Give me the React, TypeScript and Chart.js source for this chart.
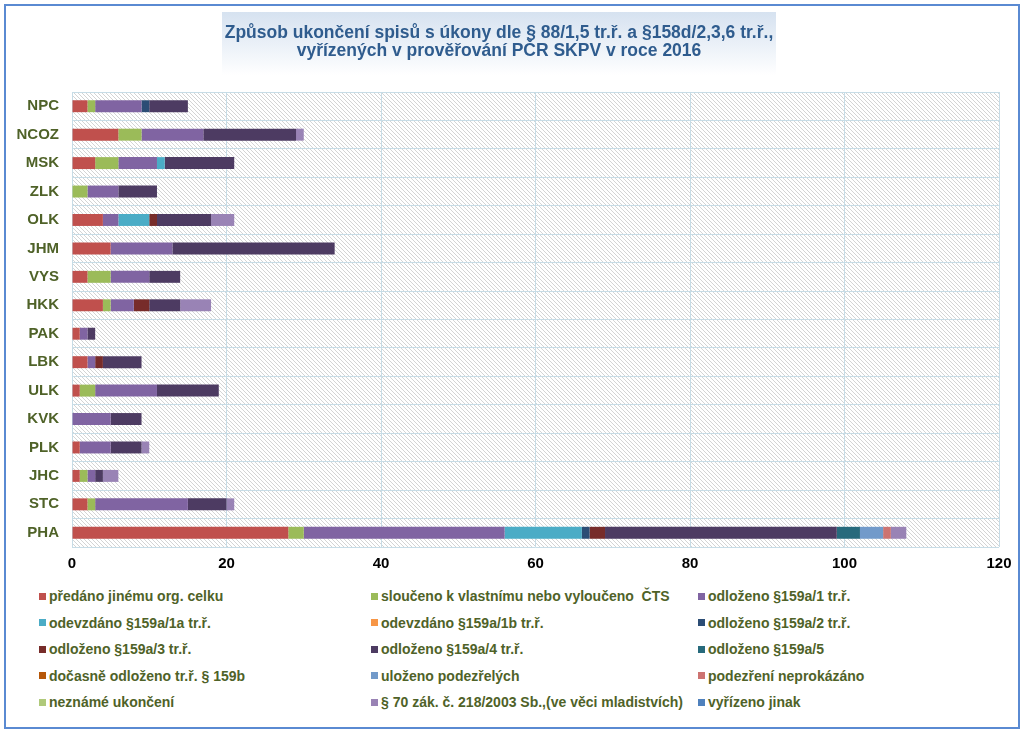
import React, { useEffect, useRef } from "react";
import { Chart, registerables } from "chart.js";

Chart.register(...registerables);

const categories = ["NPC", "NCOZ", "MSK", "ZLK", "OLK", "JHM", "VYS", "HKK", "PAK", "LBK", "ULK", "KVK", "PLK", "JHC", "STC", "PHA"];

const seriesNames = [
  "předáno jinému org. celku",
  "sloučeno k vlastnímu nebo vyloučeno  ČTS",
  "odloženo §159a/1 tr.ř.",
  "odevzdáno §159a/1a tr.ř.",
  "odevzdáno §159a/1b tr.ř.",
  "odloženo §159a/2 tr.ř.",
  "odloženo §159a/3 tr.ř.",
  "odloženo §159a/4 tr.ř.",
  "odloženo §159a/5",
  "dočasně odloženo tr.ř. § 159b",
  "uloženo podezřelých",
  "podezření neprokázáno",
  "neznámé ukončení",
  "§ 70 zák. č. 218/2003 Sb.,(ve věci mladistvích)",
  "vyřízeno jinak",
];

const seriesColors = [
  "#C0504D", "#9BBB59", "#8064A2", "#4BACC6", "#F79646",
  "#2C4D75", "#772C2A", "#4D3B62", "#276A7C", "#B65708",
  "#729ACA", "#CD7371", "#AFC97A", "#9983B5", "#4F81BD",
];

const predano = [2, 6, 3, 0, 4, 5, 2, 4, 1, 2, 1, 0, 1, 1, 2, 28];
const slouceno = [1, 3, 3, 2, 0, 0, 3, 1, 0, 0, 2, 0, 0, 1, 1, 2];
const odlozeno1 = [6, 8, 5, 4, 2, 8, 5, 3, 1, 1, 8, 5, 4, 1, 12, 26];
const odevzdano1a = [0, 0, 1, 0, 4, 0, 0, 0, 0, 0, 0, 0, 0, 0, 0, 10];
const odevzdano1b = [0, 0, 0, 0, 0, 0, 0, 0, 0, 0, 0, 0, 0, 0, 0, 0];
const odlozeno2 = [1, 0, 0, 0, 0, 0, 0, 0, 0, 0, 0, 0, 0, 0, 0, 1];
const odlozeno3 = [0, 0, 0, 0, 1, 0, 0, 2, 0, 1, 0, 0, 0, 0, 0, 2];
const odlozeno4 = [5, 12, 9, 5, 7, 21, 4, 4, 1, 5, 8, 4, 4, 1, 5, 30];
const odlozeno5 = [0, 0, 0, 0, 0, 0, 0, 0, 0, 0, 0, 0, 0, 0, 0, 3];
const docasne = [0, 0, 0, 0, 0, 0, 0, 0, 0, 0, 0, 0, 0, 0, 0, 0];
const ulozeno = [0, 0, 0, 0, 0, 0, 0, 0, 0, 0, 0, 0, 0, 0, 0, 3];
const neprokazano = [0, 0, 0, 0, 0, 0, 0, 0, 0, 0, 0, 0, 0, 0, 0, 1];
const nezname = [0, 0, 0, 0, 0, 0, 0, 0, 0, 0, 0, 0, 0, 0, 0, 0];
const mladistvi = [0, 1, 0, 0, 3, 0, 0, 4, 0, 0, 0, 0, 1, 2, 1, 2];
const jinak = [0, 0, 0, 0, 0, 0, 0, 0, 0, 0, 0, 0, 0, 0, 0, 0];

const seriesValues = [
  predano, slouceno, odlozeno1, odevzdano1a, odevzdano1b, odlozeno2, odlozeno3,
  odlozeno4, odlozeno5, docasne, ulozeno, neprokazano, nezname, mladistvi, jinak,
];

const xTicks = [0, 20, 40, 60, 80, 100, 120];

const FONT = "'Liberation Sans', Arial, sans-serif";
const LABEL_COLOR = "#4F6228";

const hatchPlugin = {
  id: "hatch",
  beforeDraw(chart: any) {
    const { ctx, chartArea: a } = chart;
    ctx.save();
    ctx.beginPath();
    ctx.rect(a.left, a.top, a.right - a.left, a.bottom - a.top);
    ctx.clip();
    ctx.fillStyle = "#ffffff";
    ctx.fillRect(a.left, a.top, a.right - a.left, a.bottom - a.top);
    ctx.strokeStyle = "#d4d4d4";
    ctx.lineWidth = 1;
    const h = a.bottom - a.top;
    ctx.beginPath();
    for (let x = a.left - h; x < a.right + 4; x += 4) {
      ctx.moveTo(x, a.top);
      ctx.lineTo(x + h, a.bottom);
    }
    ctx.stroke();
    ctx.restore();
  },
};

export default function App() {
  const ref = useRef<HTMLCanvasElement | null>(null);

  useEffect(() => {
    if (!ref.current) return;
    const chart = new Chart(ref.current, {
      type: "bar",
      data: {
        labels: categories,
        datasets: seriesNames.map((name, i) => ({
          label: name,
          data: seriesValues[i],
          backgroundColor: seriesColors[i],
          borderWidth: 0,
          categoryPercentage: 1,
          barPercentage: 0.42,
        })),
      },
      options: {
        indexAxis: "y",
        responsive: false,
        animation: false,
        layout: { padding: { left: 0, right: 25, top: 92, bottom: 3 } },
        plugins: {
          legend: { display: false },
          title: { display: false },
          tooltip: { enabled: false },
        },
        scales: {
          x: {
            stacked: true,
            min: 0,
            max: 120,
            afterBuildTicks: (scale: any) => {
              scale.ticks = xTicks.map((v) => ({ value: v }));
            },
            afterFit: (scale: any) => {
              scale.height = 30;
            },
            border: { display: false },
            grid: { color: "#C7DCE6", drawTicks: false, lineWidth: 1 },
            ticks: {
              color: "#000000",
              font: { family: FONT, size: 15, weight: "bold" },
              padding: 8,
            },
          },
          y: {
            stacked: true,
            afterFit: (scale: any) => {
              scale.width = 72;
            },
            border: { display: false },
            grid: { color: "#C7DCE6", drawTicks: false, offset: true },
            ticks: {
              color: LABEL_COLOR,
              font: { family: FONT, size: 15, weight: "bold" },
              padding: 13,
            },
          },
        },
      },
      plugins: [hatchPlugin],
    } as any);
    return () => chart.destroy();
  }, []);

  const colLeft = [39, 371, 698];

  return (
    <div style={{ position: "absolute", left: 0, top: 0, width: 1024, height: 730, background: "#ffffff", fontFamily: FONT }}>
      <div
        style={{
          position: "absolute",
          left: 4,
          top: 4,
          width: 1016,
          height: 725,
          boxSizing: "border-box",
          border: "2px solid #5A8AD2",
        }}
      />
      <div
        style={{
          position: "absolute",
          left: 222,
          top: 12,
          width: 554,
          height: 63,
          background: "linear-gradient(to bottom, #d6e2f0 0%, #eef3f9 60%, #ffffff 100%)",
        }}
      />
      <canvas
        ref={ref}
        width={1024}
        height={580}
        style={{ position: "absolute", left: 0, top: 0, width: 1024, height: 580 }}
      />
      <div
        style={{
          position: "absolute",
          left: 200,
          top: 23,
          width: 598,
          textAlign: "center",
          color: "#2F5C8E",
          fontWeight: "bold",
          fontSize: 17.5,
          lineHeight: "18px",
          whiteSpace: "nowrap",
        }}
      >
        Způsob ukončení spisů s úkony dle § 88/1,5 tr.ř. a §158d/2,3,6 tr.ř.,
        <br />
        vyřízených v prověřování PČR SKPV v roce 2016
      </div>
      {seriesNames.map((name, i) => {
        const row = Math.floor(i / 3);
        const col = i % 3;
        return (
          <div
            key={name}
            style={{
              position: "absolute",
              left: colLeft[col],
              top: 588 + row * 26.5,
              height: 16,
              display: "flex",
              alignItems: "center",
              whiteSpace: "pre",
              color: LABEL_COLOR,
              fontWeight: "bold",
              fontSize: 14,
            }}
          >
            <span style={{ display: "inline-block", width: 7, height: 7, background: seriesColors[i], marginRight: 3 }} />
            <span>{name}</span>
          </div>
        );
      })}
    </div>
  );
}
